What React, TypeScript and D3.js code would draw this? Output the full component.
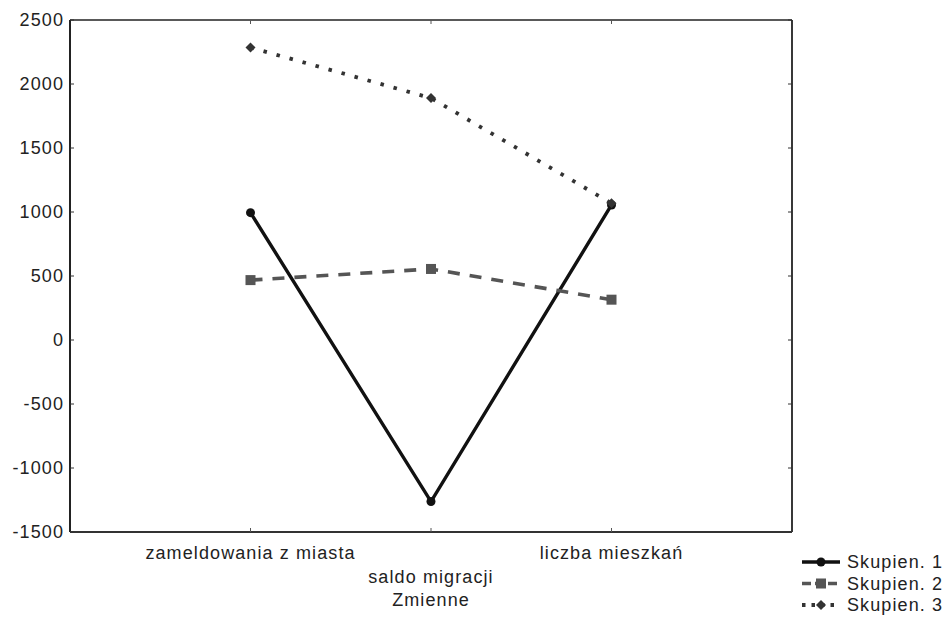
import { useMemo } from "react";
import * as d3 from "d3";

const categories = ["zameldowania z miasta", "saldo migracji", "liczba mieszkań"];
const yTicks = [2500, 2000, 1500, 1000, 500, 0, -500, -1000, -1500];

const skupien1 = [995, -1262, 1055];
const skupien2 = [468, 555, 315];
const skupien3 = [2285, 1890, 1068];

const seriesNames = ["Skupien. 1", "Skupien. 2", "Skupien. 3"];

const W = 951;
const H = 618;
const margin = { left: 70, right: 159, top: 20, bottom: 86 };

const font = "'Liberation Sans', Arial, sans-serif";
const fs = 18;
const ls = 1.1;

export default function App() {
  const x = useMemo(
    () => d3.scalePoint<string>().domain(categories).range([margin.left, W - margin.right]).padding(1),
    []
  );
  const y = useMemo(
    () => d3.scaleLinear().domain([-1500, 2500]).range([H - margin.bottom, margin.top]),
    []
  );

  const line = d3
    .line<number>()
    .x((_, i) => x(categories[i])!)
    .y((d) => y(d));

  const series = [
    { name: seriesNames[0], values: skupien1, color: "#111", width: 3.4, dash: "none", legendDash: "none", marker: "circle" },
    { name: seriesNames[1], values: skupien2, color: "#555", width: 3.6, dash: "12 10", legendDash: "9 4", marker: "square" },
    { name: seriesNames[2], values: skupien3, color: "#333", width: 3.8, dash: "3.5 10", legendDash: "3.5 6", marker: "diamond" },
  ];

  const x0 = margin.left;
  const x1 = W - margin.right;
  const y0 = margin.top;
  const y1 = H - margin.bottom;

  const marker = (kind: string, cx: number, cy: number, color: string, key: string) => {
    if (kind === "circle") return <circle key={key} cx={cx} cy={cy} r={4.5} fill={color} />;
    if (kind === "square")
      return <rect key={key} x={cx - 5} y={cy - 5} width={10} height={10} fill={color} />;
    return (
      <path
        key={key}
        d={`M${cx},${cy - 5}L${cx + 5},${cy}L${cx},${cy + 5}L${cx - 5},${cy}Z`}
        fill={color}
      />
    );
  };

  const textProps = { fontFamily: font, fontSize: fs, letterSpacing: ls, fill: "#222" };

  return (
    <div style={{ position: "absolute", left: 0, top: 0 }}>
      <svg width={W} height={H} style={{ display: "block", background: "#fff" }}>
        {/* frame */}
        <line x1={x0} y1={y0} x2={x1} y2={y0} stroke="#222" strokeWidth={1.6} />
        <line x1={x1} y1={y0} x2={x1} y2={y1} stroke="#222" strokeWidth={1.8} />
        <line x1={x0} y1={y0} x2={x0} y2={y1} stroke="#222" strokeWidth={2} />
        <line x1={x0} y1={y1} x2={x1} y2={y1} stroke="#333" strokeWidth={2} />

        {/* y ticks */}
        {yTicks.map((t) => (
          <g key={t}>
            <line x1={x0} x2={x0 + 4} y1={y(t)} y2={y(t)} stroke="#333" strokeWidth={1} />
            <line x1={x1 - 4} x2={x1} y1={y(t)} y2={y(t)} stroke="#333" strokeWidth={1} />
            <text x={x0 - 6} y={y(t)} dy="0.35em" textAnchor="end" {...textProps}>
              {t}
            </text>
          </g>
        ))}

        {/* x ticks and labels */}
        {categories.map((c, i) => (
          <g key={c}>
            <line x1={x(c)!} x2={x(c)!} y1={y1} y2={y1 - 4} stroke="#555" strokeWidth={1} />
            <line x1={x(c)!} x2={x(c)!} y1={y0} y2={y0 + 4} stroke="#555" strokeWidth={1} />
            <text x={x(c)!} y={i % 2 === 1 ? 577 : 553} dy="0.35em" textAnchor="middle" {...textProps}>
              {c}
            </text>
          </g>
        ))}
        <text x={x(categories[1])!} y={600} dy="0.35em" textAnchor="middle" {...textProps}>
          Zmienne
        </text>

        {/* series */}
        {series.map((s) => (
          <g key={s.name}>
            <path
              d={line(s.values)!}
              fill="none"
              stroke={s.color}
              strokeWidth={s.width}
              strokeDasharray={s.dash}
            />
            {s.values.map((v, i) => marker(s.marker, x(categories[i])!, y(v), s.color, `${s.name}-${i}`))}
          </g>
        ))}

        {/* legend */}
        {series.map((s, i) => {
          const ly = 562 + i * 21.5;
          return (
            <g key={`lg-${s.name}`}>
              <line
                x1={802}
                x2={840}
                y1={ly}
                y2={ly}
                stroke={s.color}
                strokeWidth={s.width}
                strokeDasharray={s.legendDash}
              />
              {marker(s.marker, 821, ly, s.color, `lgm-${i}`)}
              <text x={847} y={ly} dy="0.35em" {...textProps}>
                {s.name}
              </text>
            </g>
          );
        })}
      </svg>
    </div>
  );
}
